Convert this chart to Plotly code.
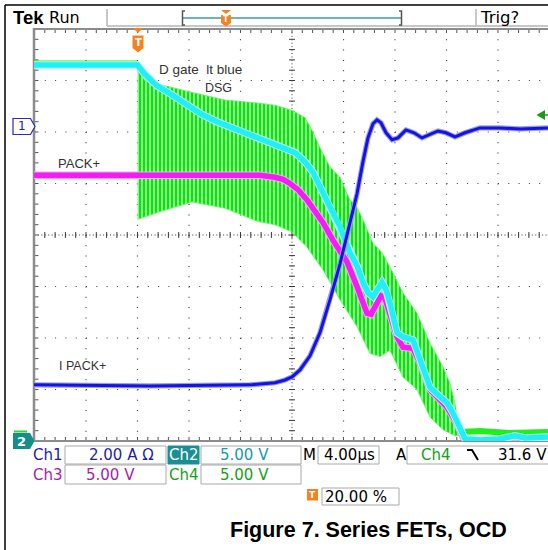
import plotly.graph_objects as go

# ---------------- data ----------------
# time in microseconds relative to the trigger point (4 us/div, trigger at 20 %)
# Ch1 : I PACK+ current (2 A/div)
ch1_time = [-8.04, 0.97, 8.74, 10.68, 11.46, 12.00, 12.62, 13.40, 14.17, 14.95,
            15.73, 16.50, 17.05, 17.51, 17.90, 18.29, 18.60, 18.91, 19.30, 19.77,
            20.23, 20.85, 21.48, 22.10, 22.72, 23.34, 23.96, 24.66, 25.44, 26.60,
            28.16, 29.71, 31.88]
ch1_amps = [-10.02, -10.06, -10.02, -9.94, -9.83, -9.71, -9.44, -8.89, -8.00, -6.72,
            -5.32, -3.77, -2.60, -1.36, -0.43, 0.12, 0.27, 0.16, -0.23, -0.50,
            -0.43, -0.12, -0.23, -0.43, -0.31, -0.16, -0.23, -0.39, -0.23, -0.04,
            -0.04, -0.08, -0.04]

# Ch2 : D gate (DSG), light blue, 5 V/div
ch2_time = [-8.04, 0.0, 0.58, 1.51, 2.68, 3.84, 5.01, 6.17, 7.57, 8.74,
            9.90, 11.30, 12.23, 13.01, 13.63, 14.41, 15.18, 15.73, 16.50, 17.05,
            17.51, 17.90, 18.29, 18.68, 18.99, 19.30, 19.61, 20.16, 20.62, 21.40,
            21.94, 22.72, 23.50, 24.04, 24.51, 25.05, 25.44, 26.60, 28.16, 29.32,
            30.10, 31.88]
ch2_volts = [36.5, 36.5, 35.6, 34.5, 33.6, 32.6, 31.7, 31.0, 30.3, 29.7,
             29.2, 28.5, 28.0, 27.1, 26.1, 24.1, 22.0, 20.8, 18.3, 17.0,
             15.4, 14.4, 14.0, 14.8, 15.4, 14.7, 13.4, 10.5, 10.1, 9.8,
             7.9, 5.2, 4.3, 3.7, 2.7, 1.1, 0.2, 0.1, 0.2, 0.5,
             0.3, 0.4]

# Ch3 : PACK+, 5 V/div
ch3_time = [-8.04, 0.0, 4.85, 9.51, 10.68, 11.30, 11.84, 12.47, 13.17, 13.79,
            14.41, 15.18, 15.73, 16.27, 17.05, 17.51, 17.83, 18.14, 18.52, 18.91,
            19.22, 19.61, 20.16, 20.62, 21.40, 21.94, 22.72, 23.50, 24.04, 24.82,
            25.28, 25.83, 28.16, 29.09, 30.49, 31.88]
ch3_volts = [25.8, 25.8, 25.8, 25.8, 25.6, 25.4, 25.0, 24.4, 23.4, 22.3,
             21.2, 19.5, 18.5, 17.4, 15.0, 13.4, 12.4, 12.3, 13.2, 14.1,
             13.9, 12.4, 10.1, 9.1, 9.0, 7.6, 5.0, 4.0, 3.3, 1.7,
             0.4, 0.1, 0.1, 0.4, 0.2, 0.4]

# Ch4 : 5 V/div - steady parts and the envelope of the fast ringing
ch4_pre_time = [-8.04, 0.0]
ch4_pre_volts = [36.8, 36.8]
ch4_post_time = [25.13, 26.60, 28.90, 31.88]
ch4_post_volts = [0.87, 0.97, 0.78, 0.87]
ch4_upper_time = [0.0, 0.12, 0.58, 1.75, 4.08, 6.80, 9.51, 10.68, 12.00, 13.01,
                  13.55, 14.17, 14.95, 15.73, 16.50, 17.05, 17.51, 18.29, 18.99, 19.61,
                  20.62, 21.71, 22.72, 23.73, 24.27, 24.66, 24.89, 25.13]
ch4_upper_volts = [36.8, 35.8, 35.0, 34.6, 33.9, 33.1, 32.8, 32.6, 32.1, 31.4,
                   30.2, 28.5, 26.6, 25.6, 23.4, 22.7, 21.5, 19.2, 18.3, 16.9,
                   14.4, 12.4, 9.5, 7.2, 5.6, 3.7, 1.6, 1.2]
ch4_lower_time = [0.0, 1.59, 4.23, 6.80, 9.36, 10.68, 12.00, 13.17, 14.41, 15.73,
                  17.05, 18.06, 18.83, 19.61, 20.62, 21.71, 22.72, 23.73, 24.66, 25.13]
ch4_lower_volts = [21.5, 22.2, 23.2, 22.6, 21.3, 21.0, 20.3, 18.8, 16.6, 13.7,
                   11.1, 8.5, 8.2, 8.8, 6.2, 5.0, 2.3, 1.1, 0.5, 0.5]

# channel settings (as shown in the readout)
CH1_A_PER_DIV = 2.0
CH1_OFFSET_DIV = 2.1
V_PER_DIV = 5.0
V_OFFSET_DIV = -4.0
US_PER_DIV = 4.0

# ---------------- geometry ----------------
W, H = 548, 550
PL, PR, PT, PB = 34, 548, 29, 441       # plot area in pixels
GL = 34.5                               # graticule left edge
DIV = 51.5                              # pixels per division
CX, CY = GL + 5 * DIV, 235              # graticule centre


def fx(px):
    return (px - PL) / (PR - PL)


def fy(py):
    return (PB - py) / (PB - PT)


x_range = [-2 * US_PER_DIV - (GL - PL) / DIV * US_PER_DIV,
           -2 * US_PER_DIV + (PR - GL) / DIV * US_PER_DIV]


def vdiv(vals):
    return [V_OFFSET_DIV + v / V_PER_DIV for v in vals]


def adiv(vals):
    return [CH1_OFFSET_DIV + a / CH1_A_PER_DIV for a in vals]


CYAN = '#20f0f6'
MAGENTA = '#f21df2'
BLUE = '#1414e0'
GREEN = '#1ef01e'

fig = go.Figure()

# Ch4 ringing band
band_t = ch4_upper_time + ch4_lower_time[::-1]
band_v = vdiv(ch4_upper_volts + ch4_lower_volts[::-1])
fig.add_trace(go.Scatter(x=band_t, y=band_v, mode='lines', fill='toself',
                         line=dict(color='#6cf06c', width=0.8),
                         fillcolor='#86f086',
                         fillpattern=dict(shape='|', fgcolor='#08e608', bgcolor='#8ef28e',
                                          size=4, solidity=0.5, fillmode='replace'),
                         hoverinfo='skip'))
fig.add_trace(go.Scatter(x=ch4_pre_time, y=vdiv(ch4_pre_volts), mode='lines',
                         line=dict(color=GREEN, width=3)))
fig.add_trace(go.Scatter(x=ch4_post_time, y=vdiv(ch4_post_volts), mode='lines',
                         line=dict(color=GREEN, width=6)))

# Ch3 magenta
fig.add_trace(go.Scatter(x=ch3_time, y=vdiv(ch3_volts), mode='lines',
                         line=dict(color='#f7a8f7', width=7.5)))
fig.add_trace(go.Scatter(x=ch3_time, y=vdiv(ch3_volts), mode='lines',
                         line=dict(color=MAGENTA, width=5.5)))
# Ch2 cyan
fig.add_trace(go.Scatter(x=ch2_time, y=vdiv(ch2_volts), mode='lines',
                         line=dict(color='#b0fafc', width=7.5)))
fig.add_trace(go.Scatter(x=ch2_time, y=vdiv(ch2_volts), mode='lines',
                         line=dict(color=CYAN, width=5.5)))
# Ch1 blue
fig.add_trace(go.Scatter(x=ch1_time, y=adiv(ch1_amps), mode='lines',
                         line=dict(color='#9c9cf6', width=5.2)))
fig.add_trace(go.Scatter(x=ch1_time, y=adiv(ch1_amps), mode='lines',
                         line=dict(color=BLUE, width=3.0)))

shapes = []
anns = []


def line(x0, y0, x1, y1, color, width, dash=None, layer='above'):
    d = dict(color=color, width=width)
    if dash:
        d['dash'] = dash
    shapes.append(dict(type='line', xref='paper', yref='paper', x0=fx(x0), y0=fy(y0),
                       x1=fx(x1), y1=fy(y1), line=d, layer=layer))


def path(pts, color=None, fill=None, width=1.0, closed=True, layer='above'):
    s = 'M' + ' L'.join(f'{fx(x):.5f},{fy(y):.5f}' for x, y in pts)
    if closed:
        s += ' Z'
    shapes.append(dict(type='path', xref='paper', yref='paper', path=s,
                       line=dict(color=color or 'rgba(0,0,0,0)', width=width if color else 0),
                       fillcolor=fill or 'rgba(0,0,0,0)', layer=layer))


def multipath(segs, color, width, layer='below'):
    s = ' '.join(f'M{fx(a):.5f},{fy(b):.5f} L{fx(c):.5f},{fy(d):.5f}' for a, b, c, d in segs)
    shapes.append(dict(type='path', xref='paper', yref='paper', path=s,
                       line=dict(color=color, width=width), layer=layer))


def rect(x0, y0, x1, y1, fill='white', color='#a8a8a8', width=1):
    shapes.append(dict(type='rect', xref='paper', yref='paper', x0=fx(x0), y0=fy(y0),
                       x1=fx(x1), y1=fy(y1), fillcolor=fill,
                       line=dict(color=color, width=width), layer='above'))


def text(t, px, py, size, color='black', family='DejaVu Sans', xanchor='center', weight='normal'):
    anns.append(dict(x=fx(px), y=fy(py), xref='paper', yref='paper', text=t, showarrow=False,
                     xanchor=xanchor, yanchor='middle', borderpad=0,
                     font=dict(size=size, color=color, family=family, weight=weight)))


# ---------------- graticule ----------------
GRID = '#3a3a3a'
for k in range(1, 10):
    if k == 5:
        continue
    x = GL + k * DIV
    line(x, PT, x, PB, GRID, 1.2, '1px,9.3px', 'below')
for k in range(1, 8):
    if k == 4:
        continue
    y = PT + k * DIV
    line(GL, y, PR, y, GRID, 1.2, '1px,9.3px', 'below')
# centre lines
line(CX, PT, CX, PB, GRID, 1.0, '1px,2.43px', 'below')
line(GL, CY, PR, CY, GRID, 1.0, '1px,2.43px', 'below')
step = DIV / 5
segs = []
for i in range(0, 41):
    y = PT + i * step
    segs.append((CX - 3, y, CX + 3, y))
for i in range(0, 51):
    x = GL + i * step
    segs.append((x, CY - 3, x, CY + 3))
multipath(segs, GRID, 1.0)
# border ticks
segs = []
for i in range(0, 51):
    x = GL + i * step
    segs.append((x, PT, x, PT + 4))
    segs.append((x, PB, x, PB - 4))
for i in range(0, 41):
    y = PT + i * step
    segs.append((GL, y, GL + 4, y))
multipath(segs, '#555555', 1.0)
# borders
line(PL, PT, PR, PT, '#8c8c8c', 2, layer='below')
line(PL, PB, PR, PB, '#8c8c8c', 2, layer='below')
line(PL, PT - 1, PL, PB + 1, '#8c8c8c', 2.5, layer='below')

# ---------------- outer frame & header ----------------
line(5, 5, 548, 5, 'black', 1.5)
line(5, 5, 5, 550, 'black', 1.5)
line(107, 9, 107, 26, '#b4b4b4', 1.5)
line(476, 9, 476, 26, '#b4b4b4', 1.5)
line(107, 26, 548, 26, '#b4b4b4', 1.5)
text('Tek', 12, 17, 18.5, 'black', 'Liberation Sans', 'left', 'bold')
text('Run', 48, 17.5, 16, 'black', 'DejaVu Sans', 'left')
text('Trig?', 479, 17, 16.5, 'black', 'DejaVu Sans', 'left')
# record window
line(183, 18, 401, 18, '#3a9fa0', 1.5)
path([(185, 11), (182.5, 11), (182.5, 25), (185, 25)], color='#555555', width=1.5, closed=False)
path([(399, 11), (401.5, 11), (401.5, 25), (399, 25)], color='#555555', width=1.5, closed=False)
ORANGE = '#f58220'
path([(221, 10), (231, 10), (226, 14)], fill=ORANGE)
path([(221, 15), (231, 15), (231, 23), (226, 26.5), (221, 23)], fill=ORANGE)
text('T', 226, 19.5, 8, 'white', 'DejaVu Sans', 'center', 'bold')

# trigger position marker
path([(133, 28), (143, 28), (138, 33)], fill=ORANGE)
path([(132.5, 35.5), (143.5, 35.5), (143.5, 48), (138, 52.5), (132.5, 48)], fill=ORANGE)
text('T', 138, 42.5, 10, 'white', 'DejaVu Sans', 'center', 'bold')

# ground markers
path([(13, 118.5), (30.5, 118.5), (35, 126.5), (30.5, 134.5), (13, 134.5)],
     color='#2a2ac0', fill='white', width=1.2)
text('1', 21.5, 126.5, 12, '#2020b0', 'DejaVu Sans')
line(14, 431.5, 27, 431.5, '#2bd82b', 2)
path([(13, 433), (30, 433), (34.5, 441), (30, 449), (13, 449)], fill='#178c8c')
text('2', 21.5, 441, 13, 'white', 'DejaVu Sans', 'center', 'bold')
# ch4 trigger level arrow
path([(536.5, 115), (545, 110), (545, 120)], fill='#1c9a1c')
line(545, 115, 548, 115, '#1c9a1c', 1.5)

# ---------------- trace labels ----------------
LBL = '#333333'
text('D gate\u00a0 lt blue', 200, 70, 13.5, LBL, 'Liberation Sans')
text('DSG', 218.5, 88, 12.5, LBL, 'Liberation Sans')
text('PACK+', 79, 163, 13, LBL, 'Liberation Sans')
text('I PACK+', 82, 366, 12.5, LBL, 'Liberation Sans')

# ---------------- readout ----------------
C1 = '#1f1fa0'
C2 = '#1a9aa2'
C3 = '#a81ea8'
C4 = '#17a017'
rect(65, 446, 166, 464)
rect(201, 446, 301, 464)
rect(318, 446, 379, 464)
rect(407, 446, 560, 464)
rect(65, 465, 166, 484)
rect(201, 465, 301, 484)
rect(168, 446, 199, 464, fill='#198f95', color='#198f95')
rect(322, 488, 399, 505)
shapes.append(dict(type='rect', xref='paper', yref='paper', x0=fx(307), x1=fx(318),
                   y0=fy(489), y1=fy(500.5), fillcolor=ORANGE, line=dict(width=0), layer='above'))
text('T', 312.5, 494.8, 9, 'white', 'DejaVu Sans', 'center', 'bold')

text('Ch1', 48, 455, 15, C1)
text('2.00 A Ω', 88, 455, 15, C1, xanchor='left')
text('Ch2', 183.5, 455, 15, 'white')
text('5.00 V', 219, 455, 15, C2, xanchor='left')
text('M', 309.5, 455, 15, 'black')
text('4.00µs', 349, 455, 15, 'black')
text('A', 401, 455, 15, 'black')
text('Ch4', 436, 455, 15, C4)
path([(467, 450), (472, 450), (478, 460)], color='black', width=2, closed=False)
text('31.6 V', 497, 455, 15, 'black', xanchor='left')
text('Ch3', 48, 475, 15, C3)
text('5.00 V', 85, 475, 15, C3, xanchor='left')
text('Ch4', 183.5, 475, 15, C4)
text('5.00 V', 219, 475, 15, C4, xanchor='left')
text('20.00 %', 356, 496.5, 15, 'black')

text('Figure 7. Series FETs, OCD', 368, 530, 21.5, 'black', 'Liberation Sans', 'center', 'bold')

fig.update_layout(
    width=W, height=H,
    margin=dict(l=PL, r=W - PR, t=PT, b=H - PB, pad=0),
    paper_bgcolor='white', plot_bgcolor='white',
    showlegend=False,
    xaxis=dict(range=x_range, visible=False, fixedrange=True),
    yaxis=dict(range=[-4, 4], visible=False, fixedrange=True),
    shapes=shapes, annotations=anns,
    hovermode=False,
)

# the page body has a default 8px margin; remove it so the figure sits at the window origin
fig.write_html('out.html', config={'displayModeBar': False},
               post_script="document.body.style.margin='0';document.body.style.overflow='hidden';")
